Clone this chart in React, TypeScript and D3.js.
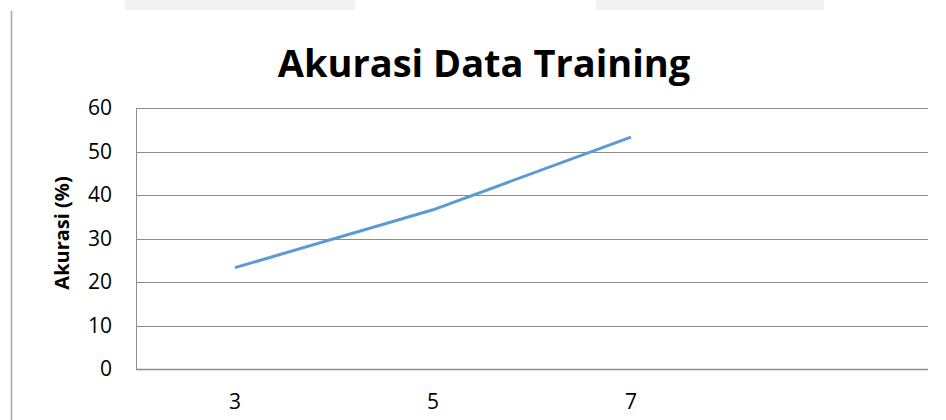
import * as d3 from "d3";
import { useEffect, useRef } from "react";

const categories = ["3", "5", "7", ""];
const akurasi = [23.3, 36.6, 53.3];
const yTicks = [0, 10, 20, 30, 40, 50, 60];

function App() {
  const svgRef = useRef<SVGSVGElement>(null);

  useEffect(() => {
    const svg = d3.select(svgRef.current);
    svg.selectAll("*").remove();

    const left = 136, right = 928, top = 108, bottom = 369;
    const font = "Open Sans, Liberation Sans, sans-serif";

    // page decorations
    svg.append("rect").attr("x", 125).attr("y", 0).attr("width", 230).attr("height", 10).attr("fill", "#f2f2f4");
    svg.append("rect").attr("x", 596).attr("y", 0).attr("width", 228).attr("height", 10).attr("fill", "#f2f2f4");
    svg.append("line").attr("x1", 11.5).attr("x2", 11.5).attr("y1", 11).attr("y2", 420)
      .attr("stroke", "#a6a6a6").attr("stroke-width", 1.5);

    const xScale = d3.scaleBand().domain(categories.map((c, i) => i + "")).range([left, right]);
    const yScale = d3.scaleLinear().domain([0, 60]).range([bottom, top]);

    // gridlines
    svg.append("g").selectAll("line").data(yTicks.filter((t) => t > 0)).join("line")
      .attr("x1", left).attr("x2", right)
      .attr("y1", (d) => Math.round(yScale(d)) + 0.5).attr("y2", (d) => Math.round(yScale(d)) + 0.5)
      .attr("stroke", "#8c8c8c").attr("stroke-width", 1);

    // left border and bottom axis
    svg.append("line").attr("x1", left + 0.5).attr("x2", left + 0.5).attr("y1", top).attr("y2", bottom)
      .attr("stroke", "#8c8c8c");
    svg.append("line").attr("x1", left).attr("x2", right).attr("y1", bottom + 0.5).attr("y2", bottom + 0.5)
      .attr("stroke", "#8c8c8c").attr("stroke-width", 1.5);

    // y tick labels
    svg.append("g").selectAll("text").data(yTicks).join("text")
      .attr("x", 112).attr("y", (d) => yScale(d))
      .attr("dy", "0.35em").attr("text-anchor", "end")
      .attr("font-family", font).attr("font-size", 21).attr("fill", "#000")
      .text((d) => d);

    // x tick labels
    svg.append("g").selectAll("text").data(categories).join("text")
      .attr("x", (d, i) => (xScale(i + "") as number) + xScale.bandwidth() / 2)
      .attr("y", 409).attr("text-anchor", "middle")
      .attr("font-family", font).attr("font-size", 21).attr("fill", "#000")
      .text((d) => d);

    // line
    const line = d3.line<number>()
      .x((v, i) => (xScale(i + "") as number) + xScale.bandwidth() / 2)
      .y((v) => yScale(v));
    svg.append("path").datum(akurasi)
      .attr("d", line)
      .attr("fill", "none").attr("stroke", "#5b9bd5").attr("stroke-width", 3)
      .attr("stroke-linejoin", "round");

    // title
    svg.append("text").attr("x", 484).attr("y", 77).attr("text-anchor", "middle")
      .attr("font-family", font).attr("font-weight", "bold").attr("font-size", 38)
      .attr("fill", "#000").text("Akurasi Data Training");

    // y axis label
    svg.append("text").attr("transform", "translate(69,233) rotate(-90)")
      .attr("text-anchor", "middle")
      .attr("font-family", font).attr("font-weight", "bold").attr("font-size", 20)
      .attr("fill", "#000").text("Akurasi (%)");
  }, []);

  return (
    <svg ref={svgRef} width={946} height={420}
      style={{ position: "absolute", left: 0, top: 0, background: "#fff" }}></svg>
  );
}

export default App;
